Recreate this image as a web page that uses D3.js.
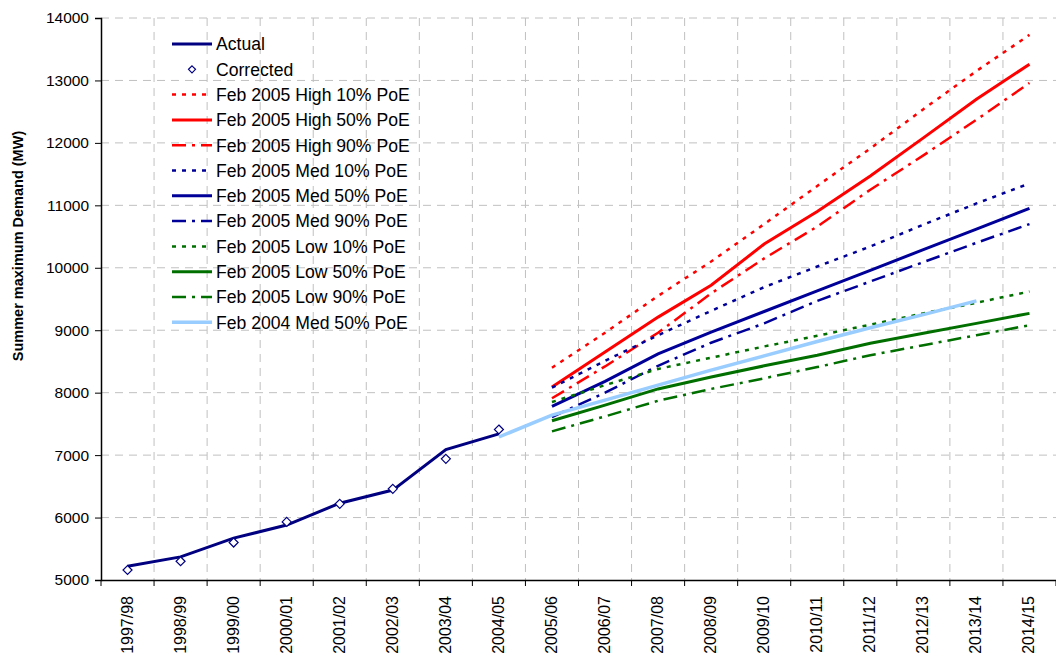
<!DOCTYPE html>
<html>
<head>
<meta charset="utf-8">
<script src="https://cdn.jsdelivr.net/npm/d3@7"></script>
<style>
  body { margin: 0; background: #fff; }
  svg { display: block; font-family: Arial, "Liberation Sans", sans-serif; }
  .grid line { stroke: #c0c0c0; stroke-width: 1; stroke-dasharray: 8,6; }
</style>
</head>
<body>
<svg width="1056" height="659"></svg>
<script>
var years = ["1997/98", "1998/99", "1999/00", "2000/01", "2001/02", "2002/03",
  "2003/04", "2004/05", "2005/06", "2006/07", "2007/08", "2008/09", "2009/10",
  "2010/11", "2011/12", "2012/13", "2013/14", "2014/15"];

var yTicks = [5000, 6000, 7000, 8000, 9000, 10000, 11000, 12000, 13000, 14000];

// history: 1997/98 .. 2004/05
var actual    = [5220, 5370, 5670, 5880, 6230, 6440, 7090, 7340];
var corrected = [5160, 5300, 5600, 5930, 6220, 6460, 6940, 7410];

// Feb 2005 forecasts: 2005/06 .. 2014/15
var high10 = [8400, 8960, 9550, 10100, 10700, 11310, 11910, 12540, 13150, 13730];
var high50 = [8090, 8650, 9210, 9720, 10380, 10900, 11470, 12080, 12700, 13260];
var high90 = [7910, 8420, 8960, 9590, 10150, 10660, 11250, 11800, 12370, 12960];
var med10  = [8080, 8510, 8920, 9310, 9690, 10020, 10340, 10690, 11030, 11350];
var med50  = [7780, 8180, 8620, 8970, 9300, 9630, 9960, 10290, 10620, 10950];
var med90  = [7610, 8000, 8430, 8800, 9110, 9470, 9780, 10090, 10400, 10700];
var low10  = [7850, 8120, 8380, 8560, 8740, 8910, 9090, 9270, 9440, 9620];
var low50  = [7550, 7800, 8060, 8250, 8430, 8600, 8790, 8950, 9110, 9270];
var low90  = [7380, 7620, 7870, 8060, 8230, 8410, 8600, 8760, 8920, 9080];

// Feb 2004 forecast: 2004/05 .. 2013/14
var med50_2004 = [7290, 7640, 7880, 8120, 8360, 8590, 8820, 9040, 9250, 9470];

var navy = "#000099", red = "#ff0000", green = "#006f00", sky = "#99ccff";
var dot = "4,6", dashDot = "14,6,3,6";

var series = [
  {name: "Actual", values: actual, start: 0, color: "#000080", width: 3, dash: null},
  {name: "Corrected", values: corrected, start: 0, marker: true},
  {name: "Feb 2005 High 10% PoE", values: high10, start: 8, color: red, width: 2.5, dash: dot},
  {name: "Feb 2005 High 50% PoE", values: high50, start: 8, color: red, width: 3, dash: null},
  {name: "Feb 2005 High 90% PoE", values: high90, start: 8, color: red, width: 2.5, dash: dashDot},
  {name: "Feb 2005 Med 10% PoE", values: med10, start: 8, color: navy, width: 2.5, dash: dot},
  {name: "Feb 2005 Med 50% PoE", values: med50, start: 8, color: navy, width: 3, dash: null},
  {name: "Feb 2005 Med 90% PoE", values: med90, start: 8, color: navy, width: 2.5, dash: dashDot},
  {name: "Feb 2005 Low 10% PoE", values: low10, start: 8, color: green, width: 2.5, dash: dot},
  {name: "Feb 2005 Low 50% PoE", values: low50, start: 8, color: green, width: 3, dash: null},
  {name: "Feb 2005 Low 90% PoE", values: low90, start: 8, color: green, width: 2.5, dash: dashDot},
  {name: "Feb 2004 Med 50% PoE", values: med50_2004, start: 7, color: sky, width: 3.5, dash: null}
];

var svg = d3.select("svg");
var plotLeft = 101, plotRight = 1056, plotTop = 18, plotBottom = 580;

var x = d3.scaleBand().domain(years).range([plotLeft, plotRight]).paddingInner(0).paddingOuter(0);
var y = d3.scaleLinear().domain([5000, 14000]).range([plotBottom, plotTop]);
var cx = function(c) { return x(c) + x.bandwidth() / 2; };

// gridlines
var grid = svg.append("g").attr("class", "grid");
grid.selectAll("line.h")
    .data(yTicks.slice(1))
    .enter().append("line")
      .attr("class", "h")
      .attr("x1", plotLeft).attr("x2", plotRight)
      .attr("y1", function(d) { return y(d); })
      .attr("y2", function(d) { return y(d); });
grid.selectAll("line.v")
    .data(years.slice(1))
    .enter().append("line")
      .attr("class", "v")
      .attr("y1", plotTop).attr("y2", plotBottom)
      .attr("x1", function(d) { return x(d); })
      .attr("x2", function(d) { return x(d); });

// axes
var yAxis = svg.append("g")
    .attr("transform", "translate(" + plotLeft + ",0)")
    .call(d3.axisLeft(y).tickValues(yTicks).tickSize(6).tickPadding(6).tickFormat(d3.format("d")));
yAxis.select(".domain").attr("stroke", "#000").attr("stroke-width", 1.5);
yAxis.selectAll("text").attr("font-size", 15.5).attr("fill", "#000");

var xAxis = svg.append("g")
    .attr("transform", "translate(0," + plotBottom + ")")
    .call(d3.axisBottom(x).tickSize(0).tickPadding(0));
xAxis.select(".domain").attr("stroke", "#000").attr("stroke-width", 1.5);
xAxis.selectAll("text")
    .attr("font-size", 16).attr("fill", "#000")
    .attr("text-anchor", "end")
    .attr("transform", "translate(5,16) rotate(-90)")
    .attr("dy", 0).attr("y", 0).attr("x", 0);
svg.append("g").selectAll("line")
    .data(years.concat(["end"]))
    .enter().append("line")
      .attr("x1", function(d, i) { return plotLeft + i * x.bandwidth(); })
      .attr("x2", function(d, i) { return plotLeft + i * x.bandwidth(); })
      .attr("y1", plotBottom).attr("y2", plotBottom + 6)
      .attr("stroke", "#000");

svg.append("text")
    .attr("transform", "translate(23,246) rotate(-90)")
    .attr("text-anchor", "middle")
    .attr("font-size", 14.5).attr("font-weight", "bold")
    .text("Summer maximum Demand (MW)");

// lines
var line = d3.line()
    .x(function(d) { return cx(d.year); })
    .y(function(d) { return y(d.value); });

function points(s) {
  return s.values.map(function(v, i) { return {year: years[s.start + i], value: v}; });
}

var diamond = "M0,-4.5L4.5,0L0,4.5L-4.5,0Z";

series.forEach(function(s) {
  if (s.marker) {
    svg.append("g").selectAll("path")
        .data(points(s))
        .enter().append("path")
          .attr("d", diamond)
          .attr("transform", function(d) { return "translate(" + cx(d.year) + "," + y(d.value) + ")"; })
          .attr("fill", "#fff").attr("stroke", "#000080").attr("stroke-width", 1.2);
  } else {
    svg.append("path")
        .datum(points(s))
        .attr("d", line)
        .attr("fill", "none")
        .attr("stroke", s.color)
        .attr("stroke-width", s.width)
        .attr("stroke-dasharray", s.dash);
  }
});

// legend
var legend = svg.append("g").attr("transform", "translate(172,44)");
var item = legend.selectAll("g")
    .data(series)
    .enter().append("g")
      .attr("transform", function(d, i) { return "translate(0," + (i * 25.3) + ")"; });

item.filter(function(d) { return !d.marker; }).append("line")
    .attr("x1", 0).attr("x2", 40)
    .attr("stroke", function(d) { return d.color; })
    .attr("stroke-width", function(d) { return d.width; })
    .attr("stroke-dasharray", function(d) { return d.dash; });
item.filter(function(d) { return d.marker; }).append("path")
    .attr("d", "M0,-3.5L3.5,0L0,3.5L-3.5,0Z")
    .attr("transform", "translate(20,0)")
    .attr("fill", "#fff").attr("stroke", "#000080").attr("stroke-width", 1.2);
item.append("text")
    .attr("x", 44).attr("dy", "0.36em")
    .attr("font-size", 17.6)
    .text(function(d) { return d.name; });
</script>
</body>
</html>
